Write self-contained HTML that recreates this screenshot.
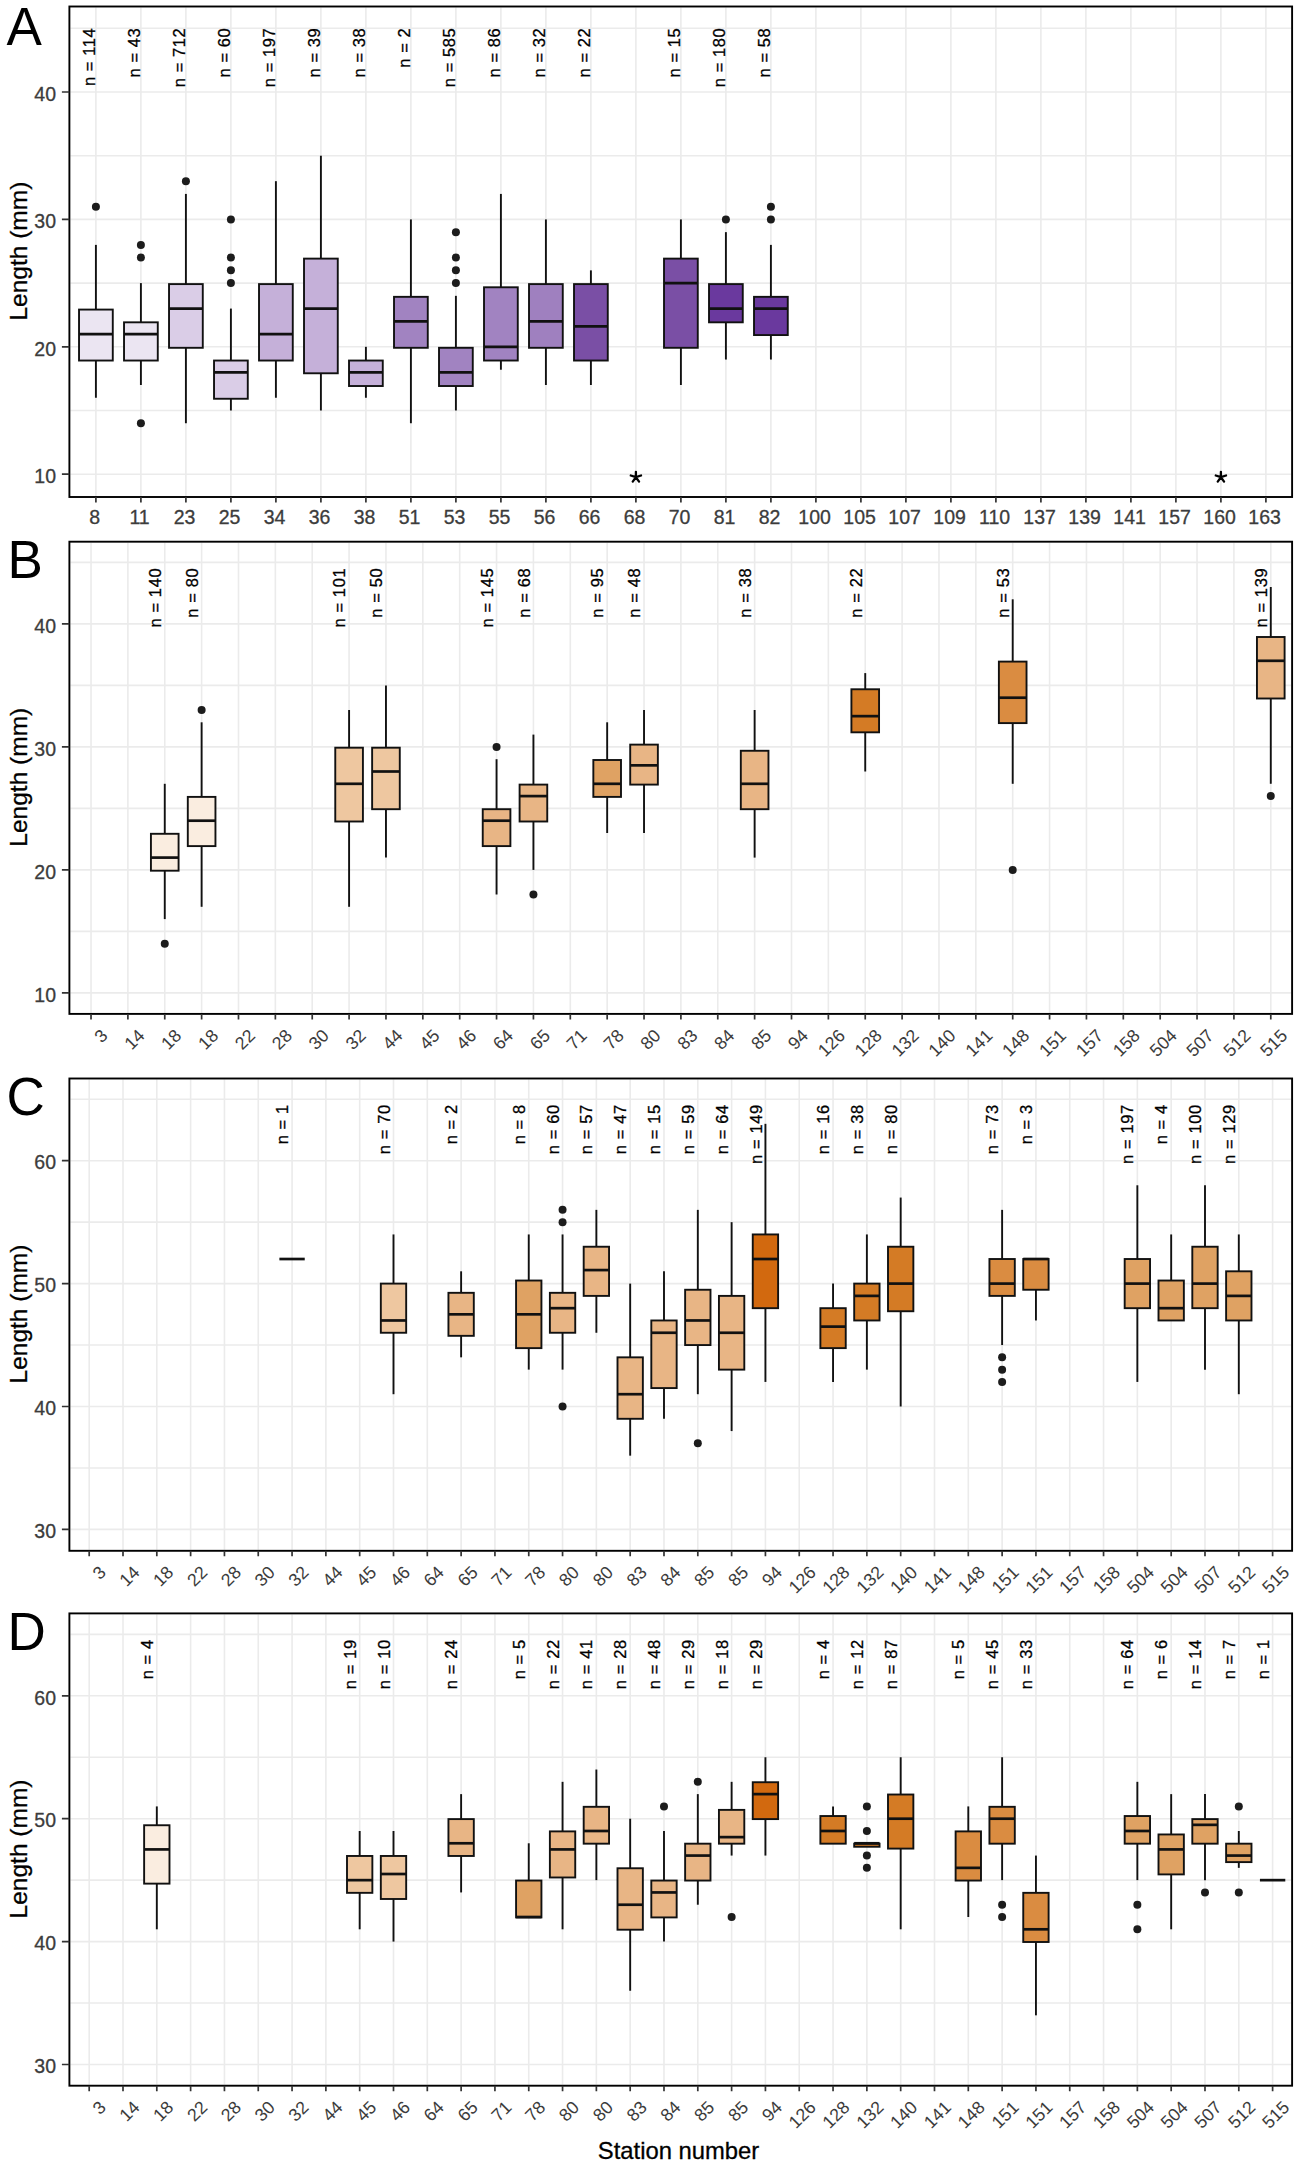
<!DOCTYPE html><html><head><meta charset="utf-8"><title>Boxplots</title>
<style>html,body{margin:0;padding:0;background:#fff;overflow:hidden;}svg{display:block;font-family:"Liberation Sans",sans-serif;}.n{font-size:16.5px;fill:#000;stroke:#000;stroke-width:0.3;text-anchor:end;letter-spacing:0.6px}.t{font-size:19.5px;fill:#3C3C3C;stroke:#3C3C3C;stroke-width:0.3}.r{font-size:17.8px;fill:#3C3C3C}</style></head><body>
<svg width="1299" height="2170" viewBox="0 0 1299 2170">
<rect x="0" y="0" width="1299" height="2170" fill="#fff"/>
<path d="M70.4 410.5H1291.1M70.4 283.1H1291.1M70.4 155.7H1291.1M70.4 28.3H1291.1M70.4 474.2H1291.1M70.4 346.8H1291.1M70.4 219.4H1291.1M70.4 92H1291.1M95.9 7.5V496M140.9 7.5V496M185.9 7.5V496M230.9 7.5V496M275.9 7.5V496M320.9 7.5V496M365.9 7.5V496M410.9 7.5V496M455.9 7.5V496M500.9 7.5V496M545.9 7.5V496M590.9 7.5V496M635.9 7.5V496M680.9 7.5V496M725.9 7.5V496M770.9 7.5V496M815.9 7.5V496M860.9 7.5V496M905.9 7.5V496M950.9 7.5V496M995.9 7.5V496M1040.9 7.5V496M1085.9 7.5V496M1130.9 7.5V496M1175.9 7.5V496M1220.9 7.5V496M1265.9 7.5V496" stroke="#EBEBEB" stroke-width="1.6" fill="none"/>
<line x1="95.9" y1="244.88" x2="95.9" y2="309.58" stroke="#111111" stroke-width="1.9"/>
<line x1="95.9" y1="360.54" x2="95.9" y2="397.76" stroke="#111111" stroke-width="1.9"/>
<rect x="79.03" y="309.58" width="33.75" height="50.96" fill="#EBE5F2" stroke="#111111" stroke-width="1.9"/>
<line x1="79.03" y1="334.06" x2="112.78" y2="334.06" stroke="#111111" stroke-width="2.7"/>
<circle cx="95.9" cy="206.66" r="4" fill="#1c1c1c"/>
<text class="n" transform="translate(95 27.6) rotate(-90)">n = 114</text>
<line x1="140.9" y1="283.1" x2="140.9" y2="322.32" stroke="#111111" stroke-width="1.9"/>
<line x1="140.9" y1="360.54" x2="140.9" y2="385.02" stroke="#111111" stroke-width="1.9"/>
<rect x="124.03" y="322.32" width="33.75" height="38.22" fill="#EBE5F2" stroke="#111111" stroke-width="1.9"/>
<line x1="124.03" y1="334.06" x2="157.78" y2="334.06" stroke="#111111" stroke-width="2.7"/>
<circle cx="140.9" cy="244.88" r="4" fill="#1c1c1c"/>
<circle cx="140.9" cy="257.62" r="4" fill="#1c1c1c"/>
<circle cx="140.9" cy="423.24" r="4" fill="#1c1c1c"/>
<text class="n" transform="translate(140 27.6) rotate(-90)">n = 43</text>
<line x1="185.9" y1="193.92" x2="185.9" y2="284.1" stroke="#111111" stroke-width="1.9"/>
<line x1="185.9" y1="347.8" x2="185.9" y2="423.24" stroke="#111111" stroke-width="1.9"/>
<rect x="169.03" y="284.1" width="33.75" height="63.7" fill="#DACDE7" stroke="#111111" stroke-width="1.9"/>
<line x1="169.03" y1="308.58" x2="202.78" y2="308.58" stroke="#111111" stroke-width="2.7"/>
<circle cx="185.9" cy="181.18" r="4" fill="#1c1c1c"/>
<text class="n" transform="translate(185 27.6) rotate(-90)">n = 712</text>
<line x1="230.9" y1="308.58" x2="230.9" y2="360.54" stroke="#111111" stroke-width="1.9"/>
<line x1="230.9" y1="398.76" x2="230.9" y2="410.5" stroke="#111111" stroke-width="1.9"/>
<rect x="214.03" y="360.54" width="33.75" height="38.22" fill="#DACDE7" stroke="#111111" stroke-width="1.9"/>
<line x1="214.03" y1="372.28" x2="247.78" y2="372.28" stroke="#111111" stroke-width="2.7"/>
<circle cx="230.9" cy="219.4" r="4" fill="#1c1c1c"/>
<circle cx="230.9" cy="257.62" r="4" fill="#1c1c1c"/>
<circle cx="230.9" cy="270.36" r="4" fill="#1c1c1c"/>
<circle cx="230.9" cy="283.1" r="4" fill="#1c1c1c"/>
<text class="n" transform="translate(230 27.6) rotate(-90)">n = 60</text>
<line x1="275.9" y1="181.18" x2="275.9" y2="284.1" stroke="#111111" stroke-width="1.9"/>
<line x1="275.9" y1="360.54" x2="275.9" y2="397.76" stroke="#111111" stroke-width="1.9"/>
<rect x="259.02" y="284.1" width="33.75" height="76.44" fill="#C5B0D9" stroke="#111111" stroke-width="1.9"/>
<line x1="259.02" y1="334.06" x2="292.77" y2="334.06" stroke="#111111" stroke-width="2.7"/>
<text class="n" transform="translate(275 27.6) rotate(-90)">n = 197</text>
<line x1="320.9" y1="155.7" x2="320.9" y2="258.62" stroke="#111111" stroke-width="1.9"/>
<line x1="320.9" y1="373.28" x2="320.9" y2="410.5" stroke="#111111" stroke-width="1.9"/>
<rect x="304.02" y="258.62" width="33.75" height="114.66" fill="#C5B0D9" stroke="#111111" stroke-width="1.9"/>
<line x1="304.02" y1="308.58" x2="337.77" y2="308.58" stroke="#111111" stroke-width="2.7"/>
<text class="n" transform="translate(320 27.6) rotate(-90)">n = 39</text>
<line x1="365.9" y1="346.8" x2="365.9" y2="360.54" stroke="#111111" stroke-width="1.9"/>
<line x1="365.9" y1="386.02" x2="365.9" y2="397.76" stroke="#111111" stroke-width="1.9"/>
<rect x="349.02" y="360.54" width="33.75" height="25.48" fill="#C5B0D9" stroke="#111111" stroke-width="1.9"/>
<line x1="349.02" y1="372.28" x2="382.77" y2="372.28" stroke="#111111" stroke-width="2.7"/>
<text class="n" transform="translate(365 27.6) rotate(-90)">n = 38</text>
<line x1="410.9" y1="219.4" x2="410.9" y2="296.84" stroke="#111111" stroke-width="1.9"/>
<line x1="410.9" y1="347.8" x2="410.9" y2="423.24" stroke="#111111" stroke-width="1.9"/>
<rect x="394.02" y="296.84" width="33.75" height="50.96" fill="#A183C1" stroke="#111111" stroke-width="1.9"/>
<line x1="394.02" y1="321.32" x2="427.77" y2="321.32" stroke="#111111" stroke-width="2.7"/>
<text class="n" transform="translate(410 27.6) rotate(-90)">n = 2</text>
<line x1="455.9" y1="295.84" x2="455.9" y2="347.8" stroke="#111111" stroke-width="1.9"/>
<line x1="455.9" y1="386.02" x2="455.9" y2="410.5" stroke="#111111" stroke-width="1.9"/>
<rect x="439.02" y="347.8" width="33.75" height="38.22" fill="#A183C1" stroke="#111111" stroke-width="1.9"/>
<line x1="439.02" y1="372.28" x2="472.77" y2="372.28" stroke="#111111" stroke-width="2.7"/>
<circle cx="455.9" cy="232.14" r="4" fill="#1c1c1c"/>
<circle cx="455.9" cy="257.62" r="4" fill="#1c1c1c"/>
<circle cx="455.9" cy="270.36" r="4" fill="#1c1c1c"/>
<circle cx="455.9" cy="283.1" r="4" fill="#1c1c1c"/>
<text class="n" transform="translate(455 27.6) rotate(-90)">n = 585</text>
<line x1="500.9" y1="193.92" x2="500.9" y2="287.28" stroke="#111111" stroke-width="1.9"/>
<line x1="500.9" y1="360.54" x2="500.9" y2="369.73" stroke="#111111" stroke-width="1.9"/>
<rect x="484.02" y="287.28" width="33.75" height="73.25" fill="#A183C1" stroke="#111111" stroke-width="1.9"/>
<line x1="484.02" y1="346.8" x2="517.77" y2="346.8" stroke="#111111" stroke-width="2.7"/>
<text class="n" transform="translate(500 27.6) rotate(-90)">n = 86</text>
<line x1="545.9" y1="219.4" x2="545.9" y2="284.1" stroke="#111111" stroke-width="1.9"/>
<line x1="545.9" y1="347.8" x2="545.9" y2="385.02" stroke="#111111" stroke-width="1.9"/>
<rect x="529.02" y="284.1" width="33.75" height="63.7" fill="#9F80BF" stroke="#111111" stroke-width="1.9"/>
<line x1="529.02" y1="321.32" x2="562.77" y2="321.32" stroke="#111111" stroke-width="2.7"/>
<text class="n" transform="translate(545 27.6) rotate(-90)">n = 32</text>
<line x1="590.9" y1="270.36" x2="590.9" y2="284.1" stroke="#111111" stroke-width="1.9"/>
<line x1="590.9" y1="360.54" x2="590.9" y2="385.02" stroke="#111111" stroke-width="1.9"/>
<rect x="574.02" y="284.1" width="33.75" height="76.44" fill="#7A4FA5" stroke="#111111" stroke-width="1.9"/>
<line x1="574.02" y1="326.42" x2="607.77" y2="326.42" stroke="#111111" stroke-width="2.7"/>
<text class="n" transform="translate(590 27.6) rotate(-90)">n = 22</text>
<line x1="680.9" y1="219.4" x2="680.9" y2="258.62" stroke="#111111" stroke-width="1.9"/>
<line x1="680.9" y1="347.8" x2="680.9" y2="385.02" stroke="#111111" stroke-width="1.9"/>
<rect x="664.02" y="258.62" width="33.75" height="89.18" fill="#7A4FA5" stroke="#111111" stroke-width="1.9"/>
<line x1="664.02" y1="283.1" x2="697.77" y2="283.1" stroke="#111111" stroke-width="2.7"/>
<text class="n" transform="translate(680 27.6) rotate(-90)">n = 15</text>
<line x1="725.9" y1="232.14" x2="725.9" y2="284.1" stroke="#111111" stroke-width="1.9"/>
<line x1="725.9" y1="322.32" x2="725.9" y2="359.54" stroke="#111111" stroke-width="1.9"/>
<rect x="709.02" y="284.1" width="33.75" height="38.22" fill="#6A399E" stroke="#111111" stroke-width="1.9"/>
<line x1="709.02" y1="308.58" x2="742.77" y2="308.58" stroke="#111111" stroke-width="2.7"/>
<circle cx="725.9" cy="219.4" r="4" fill="#1c1c1c"/>
<text class="n" transform="translate(725 27.6) rotate(-90)">n = 180</text>
<line x1="770.9" y1="244.88" x2="770.9" y2="296.84" stroke="#111111" stroke-width="1.9"/>
<line x1="770.9" y1="335.06" x2="770.9" y2="359.54" stroke="#111111" stroke-width="1.9"/>
<rect x="754.02" y="296.84" width="33.75" height="38.22" fill="#6A399E" stroke="#111111" stroke-width="1.9"/>
<line x1="754.02" y1="308.58" x2="787.77" y2="308.58" stroke="#111111" stroke-width="2.7"/>
<circle cx="770.9" cy="219.4" r="4" fill="#1c1c1c"/>
<circle cx="770.9" cy="206.66" r="4" fill="#1c1c1c"/>
<text class="n" transform="translate(770 27.6) rotate(-90)">n = 58</text>
<path d="M635.9 477.2L635.9 471.8M635.9 477.2L641.04 475.53M635.9 477.2L639.07 481.57M635.9 477.2L632.73 481.57M635.9 477.2L630.76 475.53" stroke="#000" stroke-width="2.3" stroke-linecap="round" fill="none"/>
<path d="M1220.9 477.2L1220.9 471.8M1220.9 477.2L1226.04 475.53M1220.9 477.2L1224.07 481.57M1220.9 477.2L1217.73 481.57M1220.9 477.2L1215.76 475.53" stroke="#000" stroke-width="2.3" stroke-linecap="round" fill="none"/>
<rect x="69.4" y="6.5" width="1222.7" height="490.5" fill="none" stroke="#000" stroke-width="1.9"/>
<text class="t" x="56" y="482.9" text-anchor="end">10</text>
<text class="t" x="56" y="355.5" text-anchor="end">20</text>
<text class="t" x="56" y="228.1" text-anchor="end">30</text>
<text class="t" x="56" y="100.7" text-anchor="end">40</text>
<path d="M61.9 474.2H69.4M61.9 346.8H69.4M61.9 219.4H69.4M61.9 92H69.4M95.9 497V502.5M140.9 497V502.5M185.9 497V502.5M230.9 497V502.5M275.9 497V502.5M320.9 497V502.5M365.9 497V502.5M410.9 497V502.5M455.9 497V502.5M500.9 497V502.5M545.9 497V502.5M590.9 497V502.5M635.9 497V502.5M680.9 497V502.5M725.9 497V502.5M770.9 497V502.5M815.9 497V502.5M860.9 497V502.5M905.9 497V502.5M950.9 497V502.5M995.9 497V502.5M1040.9 497V502.5M1085.9 497V502.5M1130.9 497V502.5M1175.9 497V502.5M1220.9 497V502.5M1265.9 497V502.5" stroke="#333" stroke-width="1.7" fill="none"/>
<text class="t" x="94.6" y="524.3" text-anchor="middle">8</text>
<text class="t" x="139.6" y="524.3" text-anchor="middle">11</text>
<text class="t" x="184.6" y="524.3" text-anchor="middle">23</text>
<text class="t" x="229.6" y="524.3" text-anchor="middle">25</text>
<text class="t" x="274.6" y="524.3" text-anchor="middle">34</text>
<text class="t" x="319.6" y="524.3" text-anchor="middle">36</text>
<text class="t" x="364.6" y="524.3" text-anchor="middle">38</text>
<text class="t" x="409.6" y="524.3" text-anchor="middle">51</text>
<text class="t" x="454.6" y="524.3" text-anchor="middle">53</text>
<text class="t" x="499.6" y="524.3" text-anchor="middle">55</text>
<text class="t" x="544.6" y="524.3" text-anchor="middle">56</text>
<text class="t" x="589.6" y="524.3" text-anchor="middle">66</text>
<text class="t" x="634.6" y="524.3" text-anchor="middle">68</text>
<text class="t" x="679.6" y="524.3" text-anchor="middle">70</text>
<text class="t" x="724.6" y="524.3" text-anchor="middle">81</text>
<text class="t" x="769.6" y="524.3" text-anchor="middle">82</text>
<text class="t" x="814.6" y="524.3" text-anchor="middle">100</text>
<text class="t" x="859.6" y="524.3" text-anchor="middle">105</text>
<text class="t" x="904.6" y="524.3" text-anchor="middle">107</text>
<text class="t" x="949.6" y="524.3" text-anchor="middle">109</text>
<text class="t" x="994.6" y="524.3" text-anchor="middle">110</text>
<text class="t" x="1039.6" y="524.3" text-anchor="middle">137</text>
<text class="t" x="1084.6" y="524.3" text-anchor="middle">139</text>
<text class="t" x="1129.6" y="524.3" text-anchor="middle">141</text>
<text class="t" x="1174.6" y="524.3" text-anchor="middle">157</text>
<text class="t" x="1219.6" y="524.3" text-anchor="middle">160</text>
<text class="t" x="1264.6" y="524.3" text-anchor="middle">163</text>
<text transform="translate(26.8 251.15) rotate(-90)" text-anchor="middle" font-size="24.5" fill="#000" stroke="#000" stroke-width="0.3">Length (mm)</text>
<text x="6.5" y="45" font-size="53" fill="#000">A</text>
<path d="M70.4 931.4H1291.1M70.4 808.4H1291.1M70.4 685.4H1291.1M70.4 562.4H1291.1M70.4 992.9H1291.1M70.4 869.9H1291.1M70.4 746.9H1291.1M70.4 623.9H1291.1M91.02 542.7V1012.9M127.89 542.7V1012.9M164.76 542.7V1012.9M201.62 542.7V1012.9M238.49 542.7V1012.9M275.36 542.7V1012.9M312.23 542.7V1012.9M349.09 542.7V1012.9M385.96 542.7V1012.9M422.83 542.7V1012.9M459.7 542.7V1012.9M496.56 542.7V1012.9M533.43 542.7V1012.9M570.3 542.7V1012.9M607.17 542.7V1012.9M644.03 542.7V1012.9M680.9 542.7V1012.9M717.77 542.7V1012.9M754.63 542.7V1012.9M791.5 542.7V1012.9M828.37 542.7V1012.9M865.24 542.7V1012.9M902.1 542.7V1012.9M938.97 542.7V1012.9M975.84 542.7V1012.9M1012.71 542.7V1012.9M1049.57 542.7V1012.9M1086.44 542.7V1012.9M1123.31 542.7V1012.9M1160.18 542.7V1012.9M1197.04 542.7V1012.9M1233.91 542.7V1012.9M1270.78 542.7V1012.9" stroke="#EBEBEB" stroke-width="1.6" fill="none"/>
<line x1="164.76" y1="783.8" x2="164.76" y2="833.8" stroke="#111111" stroke-width="1.9"/>
<line x1="164.76" y1="870.7" x2="164.76" y2="919.1" stroke="#111111" stroke-width="1.9"/>
<rect x="150.93" y="833.8" width="27.65" height="36.9" fill="#FAEDE0" stroke="#111111" stroke-width="1.9"/>
<line x1="150.93" y1="857.6" x2="178.58" y2="857.6" stroke="#111111" stroke-width="2.7"/>
<circle cx="164.76" cy="943.7" r="4" fill="#1c1c1c"/>
<text class="n" transform="translate(161.06 567.8) rotate(-90)">n = 140</text>
<line x1="201.62" y1="722.3" x2="201.62" y2="796.9" stroke="#111111" stroke-width="1.9"/>
<line x1="201.62" y1="846.1" x2="201.62" y2="906.8" stroke="#111111" stroke-width="1.9"/>
<rect x="187.8" y="796.9" width="27.65" height="49.2" fill="#FAEDE0" stroke="#111111" stroke-width="1.9"/>
<line x1="187.8" y1="820.7" x2="215.45" y2="820.7" stroke="#111111" stroke-width="2.7"/>
<circle cx="201.62" cy="710" r="4" fill="#1c1c1c"/>
<text class="n" transform="translate(197.92 567.8) rotate(-90)">n = 80</text>
<line x1="349.09" y1="710" x2="349.09" y2="747.7" stroke="#111111" stroke-width="1.9"/>
<line x1="349.09" y1="821.5" x2="349.09" y2="906.8" stroke="#111111" stroke-width="1.9"/>
<rect x="335.27" y="747.7" width="27.65" height="73.8" fill="#EEC7A0" stroke="#111111" stroke-width="1.9"/>
<line x1="335.27" y1="783.8" x2="362.92" y2="783.8" stroke="#111111" stroke-width="2.7"/>
<text class="n" transform="translate(345.39 567.8) rotate(-90)">n = 101</text>
<line x1="385.96" y1="685.4" x2="385.96" y2="747.7" stroke="#111111" stroke-width="1.9"/>
<line x1="385.96" y1="809.2" x2="385.96" y2="857.6" stroke="#111111" stroke-width="1.9"/>
<rect x="372.13" y="747.7" width="27.65" height="61.5" fill="#EEC7A0" stroke="#111111" stroke-width="1.9"/>
<line x1="372.13" y1="771.5" x2="399.79" y2="771.5" stroke="#111111" stroke-width="2.7"/>
<text class="n" transform="translate(382.26 567.8) rotate(-90)">n = 50</text>
<line x1="496.56" y1="759.2" x2="496.56" y2="809.2" stroke="#111111" stroke-width="1.9"/>
<line x1="496.56" y1="846.1" x2="496.56" y2="894.5" stroke="#111111" stroke-width="1.9"/>
<rect x="482.74" y="809.2" width="27.65" height="36.9" fill="#E8B585" stroke="#111111" stroke-width="1.9"/>
<line x1="482.74" y1="820.7" x2="510.39" y2="820.7" stroke="#111111" stroke-width="2.7"/>
<circle cx="496.56" cy="746.9" r="4" fill="#1c1c1c"/>
<text class="n" transform="translate(492.86 567.8) rotate(-90)">n = 145</text>
<line x1="533.43" y1="734.6" x2="533.43" y2="784.6" stroke="#111111" stroke-width="1.9"/>
<line x1="533.43" y1="821.5" x2="533.43" y2="869.9" stroke="#111111" stroke-width="1.9"/>
<rect x="519.6" y="784.6" width="27.65" height="36.9" fill="#E8B585" stroke="#111111" stroke-width="1.9"/>
<line x1="519.6" y1="796.1" x2="547.26" y2="796.1" stroke="#111111" stroke-width="2.7"/>
<circle cx="533.43" cy="894.5" r="4" fill="#1c1c1c"/>
<text class="n" transform="translate(529.73 567.8) rotate(-90)">n = 68</text>
<line x1="607.17" y1="722.3" x2="607.17" y2="760" stroke="#111111" stroke-width="1.9"/>
<line x1="607.17" y1="796.9" x2="607.17" y2="833" stroke="#111111" stroke-width="1.9"/>
<rect x="593.34" y="760" width="27.65" height="36.9" fill="#DFA263" stroke="#111111" stroke-width="1.9"/>
<line x1="593.34" y1="783.8" x2="620.99" y2="783.8" stroke="#111111" stroke-width="2.7"/>
<text class="n" transform="translate(603.47 567.8) rotate(-90)">n = 95</text>
<line x1="644.03" y1="710" x2="644.03" y2="744.62" stroke="#111111" stroke-width="1.9"/>
<line x1="644.03" y1="784.6" x2="644.03" y2="833" stroke="#111111" stroke-width="1.9"/>
<rect x="630.21" y="744.62" width="27.65" height="39.98" fill="#E8B585" stroke="#111111" stroke-width="1.9"/>
<line x1="630.21" y1="765.35" x2="657.86" y2="765.35" stroke="#111111" stroke-width="2.7"/>
<text class="n" transform="translate(640.33 567.8) rotate(-90)">n = 48</text>
<line x1="754.63" y1="710" x2="754.63" y2="750.77" stroke="#111111" stroke-width="1.9"/>
<line x1="754.63" y1="809.2" x2="754.63" y2="857.6" stroke="#111111" stroke-width="1.9"/>
<rect x="740.81" y="750.77" width="27.65" height="58.43" fill="#E8B585" stroke="#111111" stroke-width="1.9"/>
<line x1="740.81" y1="783.8" x2="768.46" y2="783.8" stroke="#111111" stroke-width="2.7"/>
<text class="n" transform="translate(750.93 567.8) rotate(-90)">n = 38</text>
<line x1="865.24" y1="673.1" x2="865.24" y2="689.27" stroke="#111111" stroke-width="1.9"/>
<line x1="865.24" y1="732.32" x2="865.24" y2="771.5" stroke="#111111" stroke-width="1.9"/>
<rect x="851.41" y="689.27" width="27.65" height="43.05" fill="#D47B25" stroke="#111111" stroke-width="1.9"/>
<line x1="851.41" y1="716.15" x2="879.06" y2="716.15" stroke="#111111" stroke-width="2.7"/>
<text class="n" transform="translate(861.54 567.8) rotate(-90)">n = 22</text>
<line x1="1012.71" y1="599.3" x2="1012.71" y2="661.6" stroke="#111111" stroke-width="1.9"/>
<line x1="1012.71" y1="723.1" x2="1012.71" y2="783.8" stroke="#111111" stroke-width="1.9"/>
<rect x="998.88" y="661.6" width="27.65" height="61.5" fill="#DA8C41" stroke="#111111" stroke-width="1.9"/>
<line x1="998.88" y1="697.7" x2="1026.53" y2="697.7" stroke="#111111" stroke-width="2.7"/>
<circle cx="1012.71" cy="869.9" r="4" fill="#1c1c1c"/>
<text class="n" transform="translate(1009.01 567.8) rotate(-90)">n = 53</text>
<line x1="1270.78" y1="587" x2="1270.78" y2="637" stroke="#111111" stroke-width="1.9"/>
<line x1="1270.78" y1="698.5" x2="1270.78" y2="783.8" stroke="#111111" stroke-width="1.9"/>
<rect x="1256.95" y="637" width="27.65" height="61.5" fill="#E8B585" stroke="#111111" stroke-width="1.9"/>
<line x1="1256.95" y1="660.8" x2="1284.6" y2="660.8" stroke="#111111" stroke-width="2.7"/>
<circle cx="1270.78" cy="796.1" r="4" fill="#1c1c1c"/>
<text class="n" transform="translate(1267.08 567.8) rotate(-90)">n = 139</text>
<rect x="69.4" y="541.7" width="1222.7" height="472.2" fill="none" stroke="#000" stroke-width="1.9"/>
<text class="t" x="56" y="1001.6" text-anchor="end">10</text>
<text class="t" x="56" y="878.6" text-anchor="end">20</text>
<text class="t" x="56" y="755.6" text-anchor="end">30</text>
<text class="t" x="56" y="632.6" text-anchor="end">40</text>
<path d="M61.9 992.9H69.4M61.9 869.9H69.4M61.9 746.9H69.4M61.9 623.9H69.4M91.02 1013.9V1019.4M127.89 1013.9V1019.4M164.76 1013.9V1019.4M201.62 1013.9V1019.4M238.49 1013.9V1019.4M275.36 1013.9V1019.4M312.23 1013.9V1019.4M349.09 1013.9V1019.4M385.96 1013.9V1019.4M422.83 1013.9V1019.4M459.7 1013.9V1019.4M496.56 1013.9V1019.4M533.43 1013.9V1019.4M570.3 1013.9V1019.4M607.17 1013.9V1019.4M644.03 1013.9V1019.4M680.9 1013.9V1019.4M717.77 1013.9V1019.4M754.63 1013.9V1019.4M791.5 1013.9V1019.4M828.37 1013.9V1019.4M865.24 1013.9V1019.4M902.1 1013.9V1019.4M938.97 1013.9V1019.4M975.84 1013.9V1019.4M1012.71 1013.9V1019.4M1049.57 1013.9V1019.4M1086.44 1013.9V1019.4M1123.31 1013.9V1019.4M1160.18 1013.9V1019.4M1197.04 1013.9V1019.4M1233.91 1013.9V1019.4M1270.78 1013.9V1019.4" stroke="#333" stroke-width="1.7" fill="none"/>
<text class="r" transform="translate(108.82 1036.7) rotate(-45)" text-anchor="end">3</text>
<text class="r" transform="translate(145.69 1036.7) rotate(-45)" text-anchor="end">14</text>
<text class="r" transform="translate(182.56 1036.7) rotate(-45)" text-anchor="end">18</text>
<text class="r" transform="translate(219.42 1036.7) rotate(-45)" text-anchor="end">18</text>
<text class="r" transform="translate(256.29 1036.7) rotate(-45)" text-anchor="end">22</text>
<text class="r" transform="translate(293.16 1036.7) rotate(-45)" text-anchor="end">28</text>
<text class="r" transform="translate(330.03 1036.7) rotate(-45)" text-anchor="end">30</text>
<text class="r" transform="translate(366.89 1036.7) rotate(-45)" text-anchor="end">32</text>
<text class="r" transform="translate(403.76 1036.7) rotate(-45)" text-anchor="end">44</text>
<text class="r" transform="translate(440.63 1036.7) rotate(-45)" text-anchor="end">45</text>
<text class="r" transform="translate(477.5 1036.7) rotate(-45)" text-anchor="end">46</text>
<text class="r" transform="translate(514.36 1036.7) rotate(-45)" text-anchor="end">64</text>
<text class="r" transform="translate(551.23 1036.7) rotate(-45)" text-anchor="end">65</text>
<text class="r" transform="translate(588.1 1036.7) rotate(-45)" text-anchor="end">71</text>
<text class="r" transform="translate(624.97 1036.7) rotate(-45)" text-anchor="end">78</text>
<text class="r" transform="translate(661.83 1036.7) rotate(-45)" text-anchor="end">80</text>
<text class="r" transform="translate(698.7 1036.7) rotate(-45)" text-anchor="end">83</text>
<text class="r" transform="translate(735.57 1036.7) rotate(-45)" text-anchor="end">84</text>
<text class="r" transform="translate(772.43 1036.7) rotate(-45)" text-anchor="end">85</text>
<text class="r" transform="translate(809.3 1036.7) rotate(-45)" text-anchor="end">94</text>
<text class="r" transform="translate(846.17 1036.7) rotate(-45)" text-anchor="end">126</text>
<text class="r" transform="translate(883.04 1036.7) rotate(-45)" text-anchor="end">128</text>
<text class="r" transform="translate(919.9 1036.7) rotate(-45)" text-anchor="end">132</text>
<text class="r" transform="translate(956.77 1036.7) rotate(-45)" text-anchor="end">140</text>
<text class="r" transform="translate(993.64 1036.7) rotate(-45)" text-anchor="end">141</text>
<text class="r" transform="translate(1030.51 1036.7) rotate(-45)" text-anchor="end">148</text>
<text class="r" transform="translate(1067.37 1036.7) rotate(-45)" text-anchor="end">151</text>
<text class="r" transform="translate(1104.24 1036.7) rotate(-45)" text-anchor="end">157</text>
<text class="r" transform="translate(1141.11 1036.7) rotate(-45)" text-anchor="end">158</text>
<text class="r" transform="translate(1177.98 1036.7) rotate(-45)" text-anchor="end">504</text>
<text class="r" transform="translate(1214.84 1036.7) rotate(-45)" text-anchor="end">507</text>
<text class="r" transform="translate(1251.71 1036.7) rotate(-45)" text-anchor="end">512</text>
<text class="r" transform="translate(1288.58 1036.7) rotate(-45)" text-anchor="end">515</text>
<text transform="translate(26.8 777.2) rotate(-90)" text-anchor="middle" font-size="24.5" fill="#000" stroke="#000" stroke-width="0.3">Length (mm)</text>
<text x="7.5" y="578.2" font-size="53" fill="#000">B</text>
<path d="M70.4 1467.95H1291.1M70.4 1345.05H1291.1M70.4 1222.15H1291.1M70.4 1099.25H1291.1M70.4 1529.4H1291.1M70.4 1406.5H1291.1M70.4 1283.6H1291.1M70.4 1160.7H1291.1M89.19 1079.5V1549.8M123 1079.5V1549.8M156.81 1079.5V1549.8M190.62 1079.5V1549.8M224.44 1079.5V1549.8M258.25 1079.5V1549.8M292.06 1079.5V1549.8M325.87 1079.5V1549.8M359.68 1079.5V1549.8M393.5 1079.5V1549.8M427.31 1079.5V1549.8M461.12 1079.5V1549.8M494.93 1079.5V1549.8M528.75 1079.5V1549.8M562.56 1079.5V1549.8M596.37 1079.5V1549.8M630.18 1079.5V1549.8M663.99 1079.5V1549.8M697.81 1079.5V1549.8M731.62 1079.5V1549.8M765.43 1079.5V1549.8M799.24 1079.5V1549.8M833.05 1079.5V1549.8M866.87 1079.5V1549.8M900.68 1079.5V1549.8M934.49 1079.5V1549.8M968.3 1079.5V1549.8M1002.12 1079.5V1549.8M1035.93 1079.5V1549.8M1069.74 1079.5V1549.8M1103.55 1079.5V1549.8M1137.36 1079.5V1549.8M1171.18 1079.5V1549.8M1204.99 1079.5V1549.8M1238.8 1079.5V1549.8M1272.61 1079.5V1549.8" stroke="#EBEBEB" stroke-width="1.6" fill="none"/>
<line x1="279.38" y1="1259.02" x2="304.74" y2="1259.02" stroke="#111111" stroke-width="2.7"/>
<text class="n" transform="translate(288.16 1104.2) rotate(-90)">n = 1</text>
<line x1="393.5" y1="1234.44" x2="393.5" y2="1283.6" stroke="#111111" stroke-width="1.9"/>
<line x1="393.5" y1="1332.76" x2="393.5" y2="1394.21" stroke="#111111" stroke-width="1.9"/>
<rect x="380.82" y="1283.6" width="25.36" height="49.16" fill="#EEC7A0" stroke="#111111" stroke-width="1.9"/>
<line x1="380.82" y1="1320.47" x2="406.18" y2="1320.47" stroke="#111111" stroke-width="2.7"/>
<text class="n" transform="translate(389.6 1104.2) rotate(-90)">n = 70</text>
<line x1="461.12" y1="1271.31" x2="461.12" y2="1292.82" stroke="#111111" stroke-width="1.9"/>
<line x1="461.12" y1="1335.83" x2="461.12" y2="1357.34" stroke="#111111" stroke-width="1.9"/>
<rect x="448.44" y="1292.82" width="25.36" height="43.01" fill="#E8B585" stroke="#111111" stroke-width="1.9"/>
<line x1="448.44" y1="1314.33" x2="473.8" y2="1314.33" stroke="#111111" stroke-width="2.7"/>
<text class="n" transform="translate(457.22 1104.2) rotate(-90)">n = 2</text>
<line x1="528.75" y1="1234.44" x2="528.75" y2="1280.53" stroke="#111111" stroke-width="1.9"/>
<line x1="528.75" y1="1348.12" x2="528.75" y2="1369.63" stroke="#111111" stroke-width="1.9"/>
<rect x="516.07" y="1280.53" width="25.36" height="67.6" fill="#DFA263" stroke="#111111" stroke-width="1.9"/>
<line x1="516.07" y1="1314.33" x2="541.42" y2="1314.33" stroke="#111111" stroke-width="2.7"/>
<text class="n" transform="translate(524.85 1104.2) rotate(-90)">n = 8</text>
<line x1="562.56" y1="1234.44" x2="562.56" y2="1292.82" stroke="#111111" stroke-width="1.9"/>
<line x1="562.56" y1="1332.76" x2="562.56" y2="1369.63" stroke="#111111" stroke-width="1.9"/>
<rect x="549.88" y="1292.82" width="25.36" height="39.94" fill="#E8B585" stroke="#111111" stroke-width="1.9"/>
<line x1="549.88" y1="1308.18" x2="575.24" y2="1308.18" stroke="#111111" stroke-width="2.7"/>
<circle cx="562.56" cy="1209.86" r="4" fill="#1c1c1c"/>
<circle cx="562.56" cy="1222.15" r="4" fill="#1c1c1c"/>
<circle cx="562.56" cy="1406.5" r="4" fill="#1c1c1c"/>
<text class="n" transform="translate(558.66 1104.2) rotate(-90)">n = 60</text>
<line x1="596.37" y1="1209.86" x2="596.37" y2="1246.73" stroke="#111111" stroke-width="1.9"/>
<line x1="596.37" y1="1295.89" x2="596.37" y2="1332.76" stroke="#111111" stroke-width="1.9"/>
<rect x="583.69" y="1246.73" width="25.36" height="49.16" fill="#E8B585" stroke="#111111" stroke-width="1.9"/>
<line x1="583.69" y1="1270.08" x2="609.05" y2="1270.08" stroke="#111111" stroke-width="2.7"/>
<text class="n" transform="translate(592.47 1104.2) rotate(-90)">n = 57</text>
<line x1="630.18" y1="1283.6" x2="630.18" y2="1357.34" stroke="#111111" stroke-width="1.9"/>
<line x1="630.18" y1="1418.79" x2="630.18" y2="1455.66" stroke="#111111" stroke-width="1.9"/>
<rect x="617.5" y="1357.34" width="25.36" height="61.45" fill="#E8B585" stroke="#111111" stroke-width="1.9"/>
<line x1="617.5" y1="1394.21" x2="642.86" y2="1394.21" stroke="#111111" stroke-width="2.7"/>
<text class="n" transform="translate(626.28 1104.2) rotate(-90)">n = 47</text>
<line x1="663.99" y1="1271.31" x2="663.99" y2="1320.47" stroke="#111111" stroke-width="1.9"/>
<line x1="663.99" y1="1388.07" x2="663.99" y2="1418.79" stroke="#111111" stroke-width="1.9"/>
<rect x="651.31" y="1320.47" width="25.36" height="67.6" fill="#E8B585" stroke="#111111" stroke-width="1.9"/>
<line x1="651.31" y1="1332.76" x2="676.67" y2="1332.76" stroke="#111111" stroke-width="2.7"/>
<text class="n" transform="translate(660.09 1104.2) rotate(-90)">n = 15</text>
<line x1="697.81" y1="1209.86" x2="697.81" y2="1289.75" stroke="#111111" stroke-width="1.9"/>
<line x1="697.81" y1="1345.05" x2="697.81" y2="1394.21" stroke="#111111" stroke-width="1.9"/>
<rect x="685.13" y="1289.75" width="25.36" height="55.31" fill="#E8B585" stroke="#111111" stroke-width="1.9"/>
<line x1="685.13" y1="1320.47" x2="710.49" y2="1320.47" stroke="#111111" stroke-width="2.7"/>
<circle cx="697.81" cy="1443.37" r="4" fill="#1c1c1c"/>
<text class="n" transform="translate(693.91 1104.2) rotate(-90)">n = 59</text>
<line x1="731.62" y1="1222.15" x2="731.62" y2="1295.89" stroke="#111111" stroke-width="1.9"/>
<line x1="731.62" y1="1369.63" x2="731.62" y2="1431.08" stroke="#111111" stroke-width="1.9"/>
<rect x="718.94" y="1295.89" width="25.36" height="73.74" fill="#E8B585" stroke="#111111" stroke-width="1.9"/>
<line x1="718.94" y1="1332.76" x2="744.3" y2="1332.76" stroke="#111111" stroke-width="2.7"/>
<text class="n" transform="translate(727.72 1104.2) rotate(-90)">n = 64</text>
<line x1="765.43" y1="1123.83" x2="765.43" y2="1234.44" stroke="#111111" stroke-width="1.9"/>
<line x1="765.43" y1="1308.18" x2="765.43" y2="1381.92" stroke="#111111" stroke-width="1.9"/>
<rect x="752.75" y="1234.44" width="25.36" height="73.74" fill="#D2690F" stroke="#111111" stroke-width="1.9"/>
<line x1="752.75" y1="1259.02" x2="778.11" y2="1259.02" stroke="#111111" stroke-width="2.7"/>
<text class="n" transform="translate(761.53 1104.2) rotate(-90)">n = 149</text>
<line x1="833.05" y1="1283.6" x2="833.05" y2="1308.18" stroke="#111111" stroke-width="1.9"/>
<line x1="833.05" y1="1348.12" x2="833.05" y2="1381.92" stroke="#111111" stroke-width="1.9"/>
<rect x="820.38" y="1308.18" width="25.36" height="39.94" fill="#D47B25" stroke="#111111" stroke-width="1.9"/>
<line x1="820.38" y1="1326.62" x2="845.73" y2="1326.62" stroke="#111111" stroke-width="2.7"/>
<text class="n" transform="translate(829.15 1104.2) rotate(-90)">n = 16</text>
<line x1="866.87" y1="1234.44" x2="866.87" y2="1283.6" stroke="#111111" stroke-width="1.9"/>
<line x1="866.87" y1="1320.47" x2="866.87" y2="1369.63" stroke="#111111" stroke-width="1.9"/>
<rect x="854.19" y="1283.6" width="25.36" height="36.87" fill="#D47B25" stroke="#111111" stroke-width="1.9"/>
<line x1="854.19" y1="1295.89" x2="879.55" y2="1295.89" stroke="#111111" stroke-width="2.7"/>
<text class="n" transform="translate(862.97 1104.2) rotate(-90)">n = 38</text>
<line x1="900.68" y1="1197.57" x2="900.68" y2="1246.73" stroke="#111111" stroke-width="1.9"/>
<line x1="900.68" y1="1311.25" x2="900.68" y2="1406.5" stroke="#111111" stroke-width="1.9"/>
<rect x="888" y="1246.73" width="25.36" height="64.52" fill="#D47B25" stroke="#111111" stroke-width="1.9"/>
<line x1="888" y1="1283.6" x2="913.36" y2="1283.6" stroke="#111111" stroke-width="2.7"/>
<text class="n" transform="translate(896.78 1104.2) rotate(-90)">n = 80</text>
<line x1="1002.12" y1="1209.86" x2="1002.12" y2="1259.02" stroke="#111111" stroke-width="1.9"/>
<line x1="1002.12" y1="1295.89" x2="1002.12" y2="1345.05" stroke="#111111" stroke-width="1.9"/>
<rect x="989.44" y="1259.02" width="25.36" height="36.87" fill="#DA8C41" stroke="#111111" stroke-width="1.9"/>
<line x1="989.44" y1="1283.6" x2="1014.8" y2="1283.6" stroke="#111111" stroke-width="2.7"/>
<circle cx="1002.12" cy="1357.34" r="4" fill="#1c1c1c"/>
<circle cx="1002.12" cy="1369.63" r="4" fill="#1c1c1c"/>
<circle cx="1002.12" cy="1381.92" r="4" fill="#1c1c1c"/>
<text class="n" transform="translate(998.22 1104.2) rotate(-90)">n = 73</text>
<line x1="1035.93" y1="1289.75" x2="1035.93" y2="1320.47" stroke="#111111" stroke-width="1.9"/>
<rect x="1023.25" y="1259.02" width="25.36" height="30.73" fill="#DA8C41" stroke="#111111" stroke-width="1.9"/>
<line x1="1023.25" y1="1259.02" x2="1048.61" y2="1259.02" stroke="#111111" stroke-width="2.7"/>
<text class="n" transform="translate(1032.03 1104.2) rotate(-90)">n = 3</text>
<line x1="1137.36" y1="1185.28" x2="1137.36" y2="1259.02" stroke="#111111" stroke-width="1.9"/>
<line x1="1137.36" y1="1308.18" x2="1137.36" y2="1381.92" stroke="#111111" stroke-width="1.9"/>
<rect x="1124.68" y="1259.02" width="25.36" height="49.16" fill="#DFA263" stroke="#111111" stroke-width="1.9"/>
<line x1="1124.68" y1="1283.6" x2="1150.04" y2="1283.6" stroke="#111111" stroke-width="2.7"/>
<text class="n" transform="translate(1133.46 1104.2) rotate(-90)">n = 197</text>
<line x1="1171.18" y1="1234.44" x2="1171.18" y2="1280.53" stroke="#111111" stroke-width="1.9"/>
<rect x="1158.5" y="1280.53" width="25.36" height="39.94" fill="#DFA263" stroke="#111111" stroke-width="1.9"/>
<line x1="1158.5" y1="1308.18" x2="1183.86" y2="1308.18" stroke="#111111" stroke-width="2.7"/>
<text class="n" transform="translate(1167.28 1104.2) rotate(-90)">n = 4</text>
<line x1="1204.99" y1="1185.28" x2="1204.99" y2="1246.73" stroke="#111111" stroke-width="1.9"/>
<line x1="1204.99" y1="1308.18" x2="1204.99" y2="1369.63" stroke="#111111" stroke-width="1.9"/>
<rect x="1192.31" y="1246.73" width="25.36" height="61.45" fill="#DFA263" stroke="#111111" stroke-width="1.9"/>
<line x1="1192.31" y1="1283.6" x2="1217.67" y2="1283.6" stroke="#111111" stroke-width="2.7"/>
<text class="n" transform="translate(1201.09 1104.2) rotate(-90)">n = 100</text>
<line x1="1238.8" y1="1234.44" x2="1238.8" y2="1271.31" stroke="#111111" stroke-width="1.9"/>
<line x1="1238.8" y1="1320.47" x2="1238.8" y2="1394.21" stroke="#111111" stroke-width="1.9"/>
<rect x="1226.12" y="1271.31" width="25.36" height="49.16" fill="#DFA263" stroke="#111111" stroke-width="1.9"/>
<line x1="1226.12" y1="1295.89" x2="1251.48" y2="1295.89" stroke="#111111" stroke-width="2.7"/>
<text class="n" transform="translate(1234.9 1104.2) rotate(-90)">n = 129</text>
<rect x="69.4" y="1078.5" width="1222.7" height="472.3" fill="none" stroke="#000" stroke-width="1.9"/>
<text class="t" x="56" y="1538.1" text-anchor="end">30</text>
<text class="t" x="56" y="1415.2" text-anchor="end">40</text>
<text class="t" x="56" y="1292.3" text-anchor="end">50</text>
<text class="t" x="56" y="1169.4" text-anchor="end">60</text>
<path d="M61.9 1529.4H69.4M61.9 1406.5H69.4M61.9 1283.6H69.4M61.9 1160.7H69.4M89.19 1550.8V1556.3M123 1550.8V1556.3M156.81 1550.8V1556.3M190.62 1550.8V1556.3M224.44 1550.8V1556.3M258.25 1550.8V1556.3M292.06 1550.8V1556.3M325.87 1550.8V1556.3M359.68 1550.8V1556.3M393.5 1550.8V1556.3M427.31 1550.8V1556.3M461.12 1550.8V1556.3M494.93 1550.8V1556.3M528.75 1550.8V1556.3M562.56 1550.8V1556.3M596.37 1550.8V1556.3M630.18 1550.8V1556.3M663.99 1550.8V1556.3M697.81 1550.8V1556.3M731.62 1550.8V1556.3M765.43 1550.8V1556.3M799.24 1550.8V1556.3M833.05 1550.8V1556.3M866.87 1550.8V1556.3M900.68 1550.8V1556.3M934.49 1550.8V1556.3M968.3 1550.8V1556.3M1002.12 1550.8V1556.3M1035.93 1550.8V1556.3M1069.74 1550.8V1556.3M1103.55 1550.8V1556.3M1137.36 1550.8V1556.3M1171.18 1550.8V1556.3M1204.99 1550.8V1556.3M1238.8 1550.8V1556.3M1272.61 1550.8V1556.3" stroke="#333" stroke-width="1.7" fill="none"/>
<text class="r" transform="translate(106.99 1573.6) rotate(-45)" text-anchor="end">3</text>
<text class="r" transform="translate(140.8 1573.6) rotate(-45)" text-anchor="end">14</text>
<text class="r" transform="translate(174.61 1573.6) rotate(-45)" text-anchor="end">18</text>
<text class="r" transform="translate(208.42 1573.6) rotate(-45)" text-anchor="end">22</text>
<text class="r" transform="translate(242.24 1573.6) rotate(-45)" text-anchor="end">28</text>
<text class="r" transform="translate(276.05 1573.6) rotate(-45)" text-anchor="end">30</text>
<text class="r" transform="translate(309.86 1573.6) rotate(-45)" text-anchor="end">32</text>
<text class="r" transform="translate(343.67 1573.6) rotate(-45)" text-anchor="end">44</text>
<text class="r" transform="translate(377.48 1573.6) rotate(-45)" text-anchor="end">45</text>
<text class="r" transform="translate(411.3 1573.6) rotate(-45)" text-anchor="end">46</text>
<text class="r" transform="translate(445.11 1573.6) rotate(-45)" text-anchor="end">64</text>
<text class="r" transform="translate(478.92 1573.6) rotate(-45)" text-anchor="end">65</text>
<text class="r" transform="translate(512.73 1573.6) rotate(-45)" text-anchor="end">71</text>
<text class="r" transform="translate(546.55 1573.6) rotate(-45)" text-anchor="end">78</text>
<text class="r" transform="translate(580.36 1573.6) rotate(-45)" text-anchor="end">80</text>
<text class="r" transform="translate(614.17 1573.6) rotate(-45)" text-anchor="end">80</text>
<text class="r" transform="translate(647.98 1573.6) rotate(-45)" text-anchor="end">83</text>
<text class="r" transform="translate(681.79 1573.6) rotate(-45)" text-anchor="end">84</text>
<text class="r" transform="translate(715.61 1573.6) rotate(-45)" text-anchor="end">85</text>
<text class="r" transform="translate(749.42 1573.6) rotate(-45)" text-anchor="end">85</text>
<text class="r" transform="translate(783.23 1573.6) rotate(-45)" text-anchor="end">94</text>
<text class="r" transform="translate(817.04 1573.6) rotate(-45)" text-anchor="end">126</text>
<text class="r" transform="translate(850.85 1573.6) rotate(-45)" text-anchor="end">128</text>
<text class="r" transform="translate(884.67 1573.6) rotate(-45)" text-anchor="end">132</text>
<text class="r" transform="translate(918.48 1573.6) rotate(-45)" text-anchor="end">140</text>
<text class="r" transform="translate(952.29 1573.6) rotate(-45)" text-anchor="end">141</text>
<text class="r" transform="translate(986.1 1573.6) rotate(-45)" text-anchor="end">148</text>
<text class="r" transform="translate(1019.92 1573.6) rotate(-45)" text-anchor="end">151</text>
<text class="r" transform="translate(1053.73 1573.6) rotate(-45)" text-anchor="end">151</text>
<text class="r" transform="translate(1087.54 1573.6) rotate(-45)" text-anchor="end">157</text>
<text class="r" transform="translate(1121.35 1573.6) rotate(-45)" text-anchor="end">158</text>
<text class="r" transform="translate(1155.16 1573.6) rotate(-45)" text-anchor="end">504</text>
<text class="r" transform="translate(1188.98 1573.6) rotate(-45)" text-anchor="end">504</text>
<text class="r" transform="translate(1222.79 1573.6) rotate(-45)" text-anchor="end">507</text>
<text class="r" transform="translate(1256.6 1573.6) rotate(-45)" text-anchor="end">512</text>
<text class="r" transform="translate(1290.41 1573.6) rotate(-45)" text-anchor="end">515</text>
<text transform="translate(26.8 1314.05) rotate(-90)" text-anchor="middle" font-size="24.5" fill="#000" stroke="#000" stroke-width="0.3">Length (mm)</text>
<text x="6.5" y="1114.6" font-size="53" fill="#000">C</text>
<path d="M70.4 2003.05H1291.1M70.4 1880.15H1291.1M70.4 1757.25H1291.1M70.4 1634.35H1291.1M70.4 2064.5H1291.1M70.4 1941.6H1291.1M70.4 1818.7H1291.1M70.4 1695.8H1291.1M89.19 1614.4V2084.7M123 1614.4V2084.7M156.81 1614.4V2084.7M190.62 1614.4V2084.7M224.44 1614.4V2084.7M258.25 1614.4V2084.7M292.06 1614.4V2084.7M325.87 1614.4V2084.7M359.68 1614.4V2084.7M393.5 1614.4V2084.7M427.31 1614.4V2084.7M461.12 1614.4V2084.7M494.93 1614.4V2084.7M528.75 1614.4V2084.7M562.56 1614.4V2084.7M596.37 1614.4V2084.7M630.18 1614.4V2084.7M663.99 1614.4V2084.7M697.81 1614.4V2084.7M731.62 1614.4V2084.7M765.43 1614.4V2084.7M799.24 1614.4V2084.7M833.05 1614.4V2084.7M866.87 1614.4V2084.7M900.68 1614.4V2084.7M934.49 1614.4V2084.7M968.3 1614.4V2084.7M1002.12 1614.4V2084.7M1035.93 1614.4V2084.7M1069.74 1614.4V2084.7M1103.55 1614.4V2084.7M1137.36 1614.4V2084.7M1171.18 1614.4V2084.7M1204.99 1614.4V2084.7M1238.8 1614.4V2084.7M1272.61 1614.4V2084.7" stroke="#EBEBEB" stroke-width="1.6" fill="none"/>
<line x1="156.81" y1="1806.41" x2="156.81" y2="1825.25" stroke="#111111" stroke-width="1.9"/>
<line x1="156.81" y1="1883.62" x2="156.81" y2="1929.31" stroke="#111111" stroke-width="1.9"/>
<rect x="144.13" y="1825.25" width="25.36" height="58.38" fill="#FAEDE0" stroke="#111111" stroke-width="1.9"/>
<line x1="144.13" y1="1849.42" x2="169.49" y2="1849.42" stroke="#111111" stroke-width="2.7"/>
<text class="n" transform="translate(152.91 1639.2) rotate(-90)">n = 4</text>
<line x1="359.68" y1="1830.99" x2="359.68" y2="1855.97" stroke="#111111" stroke-width="1.9"/>
<line x1="359.68" y1="1892.84" x2="359.68" y2="1929.31" stroke="#111111" stroke-width="1.9"/>
<rect x="347" y="1855.97" width="25.36" height="36.87" fill="#EEC7A0" stroke="#111111" stroke-width="1.9"/>
<line x1="347" y1="1880.15" x2="372.36" y2="1880.15" stroke="#111111" stroke-width="2.7"/>
<text class="n" transform="translate(355.78 1639.2) rotate(-90)">n = 19</text>
<line x1="393.5" y1="1830.99" x2="393.5" y2="1855.97" stroke="#111111" stroke-width="1.9"/>
<line x1="393.5" y1="1898.99" x2="393.5" y2="1941.6" stroke="#111111" stroke-width="1.9"/>
<rect x="380.82" y="1855.97" width="25.36" height="43.02" fill="#EEC7A0" stroke="#111111" stroke-width="1.9"/>
<line x1="380.82" y1="1874.01" x2="406.18" y2="1874.01" stroke="#111111" stroke-width="2.7"/>
<text class="n" transform="translate(389.6 1639.2) rotate(-90)">n = 10</text>
<line x1="461.12" y1="1794.12" x2="461.12" y2="1819.1" stroke="#111111" stroke-width="1.9"/>
<line x1="461.12" y1="1855.97" x2="461.12" y2="1892.44" stroke="#111111" stroke-width="1.9"/>
<rect x="448.44" y="1819.1" width="25.36" height="36.87" fill="#E8B585" stroke="#111111" stroke-width="1.9"/>
<line x1="448.44" y1="1843.28" x2="473.8" y2="1843.28" stroke="#111111" stroke-width="2.7"/>
<text class="n" transform="translate(457.22 1639.2) rotate(-90)">n = 24</text>
<line x1="528.75" y1="1843.28" x2="528.75" y2="1880.55" stroke="#111111" stroke-width="1.9"/>
<rect x="516.07" y="1880.55" width="25.36" height="36.87" fill="#DFA263" stroke="#111111" stroke-width="1.9"/>
<line x1="516.07" y1="1917.02" x2="541.42" y2="1917.02" stroke="#111111" stroke-width="2.7"/>
<text class="n" transform="translate(524.85 1639.2) rotate(-90)">n = 5</text>
<line x1="562.56" y1="1781.83" x2="562.56" y2="1831.39" stroke="#111111" stroke-width="1.9"/>
<line x1="562.56" y1="1877.48" x2="562.56" y2="1929.31" stroke="#111111" stroke-width="1.9"/>
<rect x="549.88" y="1831.39" width="25.36" height="46.09" fill="#E8B585" stroke="#111111" stroke-width="1.9"/>
<line x1="549.88" y1="1849.42" x2="575.24" y2="1849.42" stroke="#111111" stroke-width="2.7"/>
<text class="n" transform="translate(558.66 1639.2) rotate(-90)">n = 22</text>
<line x1="596.37" y1="1769.54" x2="596.37" y2="1806.81" stroke="#111111" stroke-width="1.9"/>
<line x1="596.37" y1="1843.68" x2="596.37" y2="1880.15" stroke="#111111" stroke-width="1.9"/>
<rect x="583.69" y="1806.81" width="25.36" height="36.87" fill="#E8B585" stroke="#111111" stroke-width="1.9"/>
<line x1="583.69" y1="1830.99" x2="609.05" y2="1830.99" stroke="#111111" stroke-width="2.7"/>
<text class="n" transform="translate(592.47 1639.2) rotate(-90)">n = 41</text>
<line x1="630.18" y1="1818.7" x2="630.18" y2="1868.26" stroke="#111111" stroke-width="1.9"/>
<line x1="630.18" y1="1929.71" x2="630.18" y2="1990.76" stroke="#111111" stroke-width="1.9"/>
<rect x="617.5" y="1868.26" width="25.36" height="61.45" fill="#E8B585" stroke="#111111" stroke-width="1.9"/>
<line x1="617.5" y1="1904.73" x2="642.86" y2="1904.73" stroke="#111111" stroke-width="2.7"/>
<text class="n" transform="translate(626.28 1639.2) rotate(-90)">n = 28</text>
<line x1="663.99" y1="1830.99" x2="663.99" y2="1880.55" stroke="#111111" stroke-width="1.9"/>
<line x1="663.99" y1="1917.42" x2="663.99" y2="1941.6" stroke="#111111" stroke-width="1.9"/>
<rect x="651.31" y="1880.55" width="25.36" height="36.87" fill="#E8B585" stroke="#111111" stroke-width="1.9"/>
<line x1="651.31" y1="1892.44" x2="676.67" y2="1892.44" stroke="#111111" stroke-width="2.7"/>
<circle cx="663.99" cy="1806.41" r="4" fill="#1c1c1c"/>
<text class="n" transform="translate(660.09 1639.2) rotate(-90)">n = 48</text>
<line x1="697.81" y1="1794.12" x2="697.81" y2="1843.68" stroke="#111111" stroke-width="1.9"/>
<line x1="697.81" y1="1880.55" x2="697.81" y2="1904.73" stroke="#111111" stroke-width="1.9"/>
<rect x="685.13" y="1843.68" width="25.36" height="36.87" fill="#E8B585" stroke="#111111" stroke-width="1.9"/>
<line x1="685.13" y1="1855.57" x2="710.49" y2="1855.57" stroke="#111111" stroke-width="2.7"/>
<circle cx="697.81" cy="1781.83" r="4" fill="#1c1c1c"/>
<text class="n" transform="translate(693.91 1639.2) rotate(-90)">n = 29</text>
<line x1="731.62" y1="1781.83" x2="731.62" y2="1809.88" stroke="#111111" stroke-width="1.9"/>
<line x1="731.62" y1="1843.68" x2="731.62" y2="1855.57" stroke="#111111" stroke-width="1.9"/>
<rect x="718.94" y="1809.88" width="25.36" height="33.8" fill="#E8B585" stroke="#111111" stroke-width="1.9"/>
<line x1="718.94" y1="1837.13" x2="744.3" y2="1837.13" stroke="#111111" stroke-width="2.7"/>
<circle cx="731.62" cy="1917.02" r="4" fill="#1c1c1c"/>
<text class="n" transform="translate(727.72 1639.2) rotate(-90)">n = 18</text>
<line x1="765.43" y1="1757.25" x2="765.43" y2="1782.23" stroke="#111111" stroke-width="1.9"/>
<line x1="765.43" y1="1819.1" x2="765.43" y2="1855.57" stroke="#111111" stroke-width="1.9"/>
<rect x="752.75" y="1782.23" width="25.36" height="36.87" fill="#D2690F" stroke="#111111" stroke-width="1.9"/>
<line x1="752.75" y1="1794.12" x2="778.11" y2="1794.12" stroke="#111111" stroke-width="2.7"/>
<text class="n" transform="translate(761.53 1639.2) rotate(-90)">n = 29</text>
<line x1="833.05" y1="1806.41" x2="833.05" y2="1816.03" stroke="#111111" stroke-width="1.9"/>
<rect x="820.38" y="1816.03" width="25.36" height="27.65" fill="#D47B25" stroke="#111111" stroke-width="1.9"/>
<line x1="820.38" y1="1830.99" x2="845.73" y2="1830.99" stroke="#111111" stroke-width="2.7"/>
<text class="n" transform="translate(829.15 1639.2) rotate(-90)">n = 4</text>
<rect x="854.19" y="1843.68" width="25.36" height="3.07" fill="#D47B25" stroke="#111111" stroke-width="1.9"/>
<line x1="854.19" y1="1843.28" x2="879.55" y2="1843.28" stroke="#111111" stroke-width="2.7"/>
<circle cx="866.87" cy="1806.41" r="4" fill="#1c1c1c"/>
<circle cx="866.87" cy="1830.99" r="4" fill="#1c1c1c"/>
<circle cx="866.87" cy="1855.57" r="4" fill="#1c1c1c"/>
<circle cx="866.87" cy="1867.86" r="4" fill="#1c1c1c"/>
<text class="n" transform="translate(862.97 1639.2) rotate(-90)">n = 12</text>
<line x1="900.68" y1="1757.25" x2="900.68" y2="1794.52" stroke="#111111" stroke-width="1.9"/>
<line x1="900.68" y1="1848.6" x2="900.68" y2="1929.31" stroke="#111111" stroke-width="1.9"/>
<rect x="888" y="1794.52" width="25.36" height="54.08" fill="#D47B25" stroke="#111111" stroke-width="1.9"/>
<line x1="888" y1="1818.7" x2="913.36" y2="1818.7" stroke="#111111" stroke-width="2.7"/>
<text class="n" transform="translate(896.78 1639.2) rotate(-90)">n = 87</text>
<line x1="968.3" y1="1806.41" x2="968.3" y2="1831.39" stroke="#111111" stroke-width="1.9"/>
<line x1="968.3" y1="1880.55" x2="968.3" y2="1917.02" stroke="#111111" stroke-width="1.9"/>
<rect x="955.62" y="1831.39" width="25.36" height="49.16" fill="#DA8C41" stroke="#111111" stroke-width="1.9"/>
<line x1="955.62" y1="1867.86" x2="980.98" y2="1867.86" stroke="#111111" stroke-width="2.7"/>
<text class="n" transform="translate(964.4 1639.2) rotate(-90)">n = 5</text>
<line x1="1002.12" y1="1757.25" x2="1002.12" y2="1806.81" stroke="#111111" stroke-width="1.9"/>
<line x1="1002.12" y1="1843.68" x2="1002.12" y2="1880.15" stroke="#111111" stroke-width="1.9"/>
<rect x="989.44" y="1806.81" width="25.36" height="36.87" fill="#DA8C41" stroke="#111111" stroke-width="1.9"/>
<line x1="989.44" y1="1818.7" x2="1014.8" y2="1818.7" stroke="#111111" stroke-width="2.7"/>
<circle cx="1002.12" cy="1904.73" r="4" fill="#1c1c1c"/>
<circle cx="1002.12" cy="1917.02" r="4" fill="#1c1c1c"/>
<text class="n" transform="translate(998.22 1639.2) rotate(-90)">n = 45</text>
<line x1="1035.93" y1="1855.57" x2="1035.93" y2="1892.84" stroke="#111111" stroke-width="1.9"/>
<line x1="1035.93" y1="1942" x2="1035.93" y2="2015.34" stroke="#111111" stroke-width="1.9"/>
<rect x="1023.25" y="1892.84" width="25.36" height="49.16" fill="#DA8C41" stroke="#111111" stroke-width="1.9"/>
<line x1="1023.25" y1="1929.31" x2="1048.61" y2="1929.31" stroke="#111111" stroke-width="2.7"/>
<text class="n" transform="translate(1032.03 1639.2) rotate(-90)">n = 33</text>
<line x1="1137.36" y1="1781.83" x2="1137.36" y2="1816.03" stroke="#111111" stroke-width="1.9"/>
<line x1="1137.36" y1="1843.68" x2="1137.36" y2="1880.15" stroke="#111111" stroke-width="1.9"/>
<rect x="1124.68" y="1816.03" width="25.36" height="27.65" fill="#DFA263" stroke="#111111" stroke-width="1.9"/>
<line x1="1124.68" y1="1830.99" x2="1150.04" y2="1830.99" stroke="#111111" stroke-width="2.7"/>
<circle cx="1137.36" cy="1904.73" r="4" fill="#1c1c1c"/>
<circle cx="1137.36" cy="1929.31" r="4" fill="#1c1c1c"/>
<text class="n" transform="translate(1133.46 1639.2) rotate(-90)">n = 64</text>
<line x1="1171.18" y1="1794.12" x2="1171.18" y2="1834.46" stroke="#111111" stroke-width="1.9"/>
<line x1="1171.18" y1="1874.41" x2="1171.18" y2="1929.31" stroke="#111111" stroke-width="1.9"/>
<rect x="1158.5" y="1834.46" width="25.36" height="39.94" fill="#DFA263" stroke="#111111" stroke-width="1.9"/>
<line x1="1158.5" y1="1849.42" x2="1183.86" y2="1849.42" stroke="#111111" stroke-width="2.7"/>
<text class="n" transform="translate(1167.28 1639.2) rotate(-90)">n = 6</text>
<line x1="1204.99" y1="1794.12" x2="1204.99" y2="1819.1" stroke="#111111" stroke-width="1.9"/>
<line x1="1204.99" y1="1843.68" x2="1204.99" y2="1880.15" stroke="#111111" stroke-width="1.9"/>
<rect x="1192.31" y="1819.1" width="25.36" height="24.58" fill="#DFA263" stroke="#111111" stroke-width="1.9"/>
<line x1="1192.31" y1="1824.85" x2="1217.67" y2="1824.85" stroke="#111111" stroke-width="2.7"/>
<circle cx="1204.99" cy="1892.44" r="4" fill="#1c1c1c"/>
<text class="n" transform="translate(1201.09 1639.2) rotate(-90)">n = 14</text>
<line x1="1238.8" y1="1830.99" x2="1238.8" y2="1843.68" stroke="#111111" stroke-width="1.9"/>
<line x1="1238.8" y1="1862.12" x2="1238.8" y2="1867.86" stroke="#111111" stroke-width="1.9"/>
<rect x="1226.12" y="1843.68" width="25.36" height="18.43" fill="#DFA263" stroke="#111111" stroke-width="1.9"/>
<line x1="1226.12" y1="1855.57" x2="1251.48" y2="1855.57" stroke="#111111" stroke-width="2.7"/>
<circle cx="1238.8" cy="1806.41" r="4" fill="#1c1c1c"/>
<circle cx="1238.8" cy="1892.44" r="4" fill="#1c1c1c"/>
<text class="n" transform="translate(1234.9 1639.2) rotate(-90)">n = 7</text>
<line x1="1259.93" y1="1880.15" x2="1285.29" y2="1880.15" stroke="#111111" stroke-width="2.7"/>
<text class="n" transform="translate(1268.71 1639.2) rotate(-90)">n = 1</text>
<rect x="69.4" y="1613.4" width="1222.7" height="472.3" fill="none" stroke="#000" stroke-width="1.9"/>
<text class="t" x="56" y="2073.2" text-anchor="end">30</text>
<text class="t" x="56" y="1950.3" text-anchor="end">40</text>
<text class="t" x="56" y="1827.4" text-anchor="end">50</text>
<text class="t" x="56" y="1704.5" text-anchor="end">60</text>
<path d="M61.9 2064.5H69.4M61.9 1941.6H69.4M61.9 1818.7H69.4M61.9 1695.8H69.4M89.19 2085.7V2091.2M123 2085.7V2091.2M156.81 2085.7V2091.2M190.62 2085.7V2091.2M224.44 2085.7V2091.2M258.25 2085.7V2091.2M292.06 2085.7V2091.2M325.87 2085.7V2091.2M359.68 2085.7V2091.2M393.5 2085.7V2091.2M427.31 2085.7V2091.2M461.12 2085.7V2091.2M494.93 2085.7V2091.2M528.75 2085.7V2091.2M562.56 2085.7V2091.2M596.37 2085.7V2091.2M630.18 2085.7V2091.2M663.99 2085.7V2091.2M697.81 2085.7V2091.2M731.62 2085.7V2091.2M765.43 2085.7V2091.2M799.24 2085.7V2091.2M833.05 2085.7V2091.2M866.87 2085.7V2091.2M900.68 2085.7V2091.2M934.49 2085.7V2091.2M968.3 2085.7V2091.2M1002.12 2085.7V2091.2M1035.93 2085.7V2091.2M1069.74 2085.7V2091.2M1103.55 2085.7V2091.2M1137.36 2085.7V2091.2M1171.18 2085.7V2091.2M1204.99 2085.7V2091.2M1238.8 2085.7V2091.2M1272.61 2085.7V2091.2" stroke="#333" stroke-width="1.7" fill="none"/>
<text class="r" transform="translate(106.99 2108.5) rotate(-45)" text-anchor="end">3</text>
<text class="r" transform="translate(140.8 2108.5) rotate(-45)" text-anchor="end">14</text>
<text class="r" transform="translate(174.61 2108.5) rotate(-45)" text-anchor="end">18</text>
<text class="r" transform="translate(208.42 2108.5) rotate(-45)" text-anchor="end">22</text>
<text class="r" transform="translate(242.24 2108.5) rotate(-45)" text-anchor="end">28</text>
<text class="r" transform="translate(276.05 2108.5) rotate(-45)" text-anchor="end">30</text>
<text class="r" transform="translate(309.86 2108.5) rotate(-45)" text-anchor="end">32</text>
<text class="r" transform="translate(343.67 2108.5) rotate(-45)" text-anchor="end">44</text>
<text class="r" transform="translate(377.48 2108.5) rotate(-45)" text-anchor="end">45</text>
<text class="r" transform="translate(411.3 2108.5) rotate(-45)" text-anchor="end">46</text>
<text class="r" transform="translate(445.11 2108.5) rotate(-45)" text-anchor="end">64</text>
<text class="r" transform="translate(478.92 2108.5) rotate(-45)" text-anchor="end">65</text>
<text class="r" transform="translate(512.73 2108.5) rotate(-45)" text-anchor="end">71</text>
<text class="r" transform="translate(546.55 2108.5) rotate(-45)" text-anchor="end">78</text>
<text class="r" transform="translate(580.36 2108.5) rotate(-45)" text-anchor="end">80</text>
<text class="r" transform="translate(614.17 2108.5) rotate(-45)" text-anchor="end">80</text>
<text class="r" transform="translate(647.98 2108.5) rotate(-45)" text-anchor="end">83</text>
<text class="r" transform="translate(681.79 2108.5) rotate(-45)" text-anchor="end">84</text>
<text class="r" transform="translate(715.61 2108.5) rotate(-45)" text-anchor="end">85</text>
<text class="r" transform="translate(749.42 2108.5) rotate(-45)" text-anchor="end">85</text>
<text class="r" transform="translate(783.23 2108.5) rotate(-45)" text-anchor="end">94</text>
<text class="r" transform="translate(817.04 2108.5) rotate(-45)" text-anchor="end">126</text>
<text class="r" transform="translate(850.85 2108.5) rotate(-45)" text-anchor="end">128</text>
<text class="r" transform="translate(884.67 2108.5) rotate(-45)" text-anchor="end">132</text>
<text class="r" transform="translate(918.48 2108.5) rotate(-45)" text-anchor="end">140</text>
<text class="r" transform="translate(952.29 2108.5) rotate(-45)" text-anchor="end">141</text>
<text class="r" transform="translate(986.1 2108.5) rotate(-45)" text-anchor="end">148</text>
<text class="r" transform="translate(1019.92 2108.5) rotate(-45)" text-anchor="end">151</text>
<text class="r" transform="translate(1053.73 2108.5) rotate(-45)" text-anchor="end">151</text>
<text class="r" transform="translate(1087.54 2108.5) rotate(-45)" text-anchor="end">157</text>
<text class="r" transform="translate(1121.35 2108.5) rotate(-45)" text-anchor="end">158</text>
<text class="r" transform="translate(1155.16 2108.5) rotate(-45)" text-anchor="end">504</text>
<text class="r" transform="translate(1188.98 2108.5) rotate(-45)" text-anchor="end">504</text>
<text class="r" transform="translate(1222.79 2108.5) rotate(-45)" text-anchor="end">507</text>
<text class="r" transform="translate(1256.6 2108.5) rotate(-45)" text-anchor="end">512</text>
<text class="r" transform="translate(1290.41 2108.5) rotate(-45)" text-anchor="end">515</text>
<text transform="translate(26.8 1848.95) rotate(-90)" text-anchor="middle" font-size="24.5" fill="#000" stroke="#000" stroke-width="0.3">Length (mm)</text>
<text x="7.5" y="1650" font-size="53" fill="#000">D</text>
<text x="678.5" y="2159.4" text-anchor="middle" font-size="23.8" fill="#000" stroke="#000" stroke-width="0.3">Station number</text>
</svg></body></html>
